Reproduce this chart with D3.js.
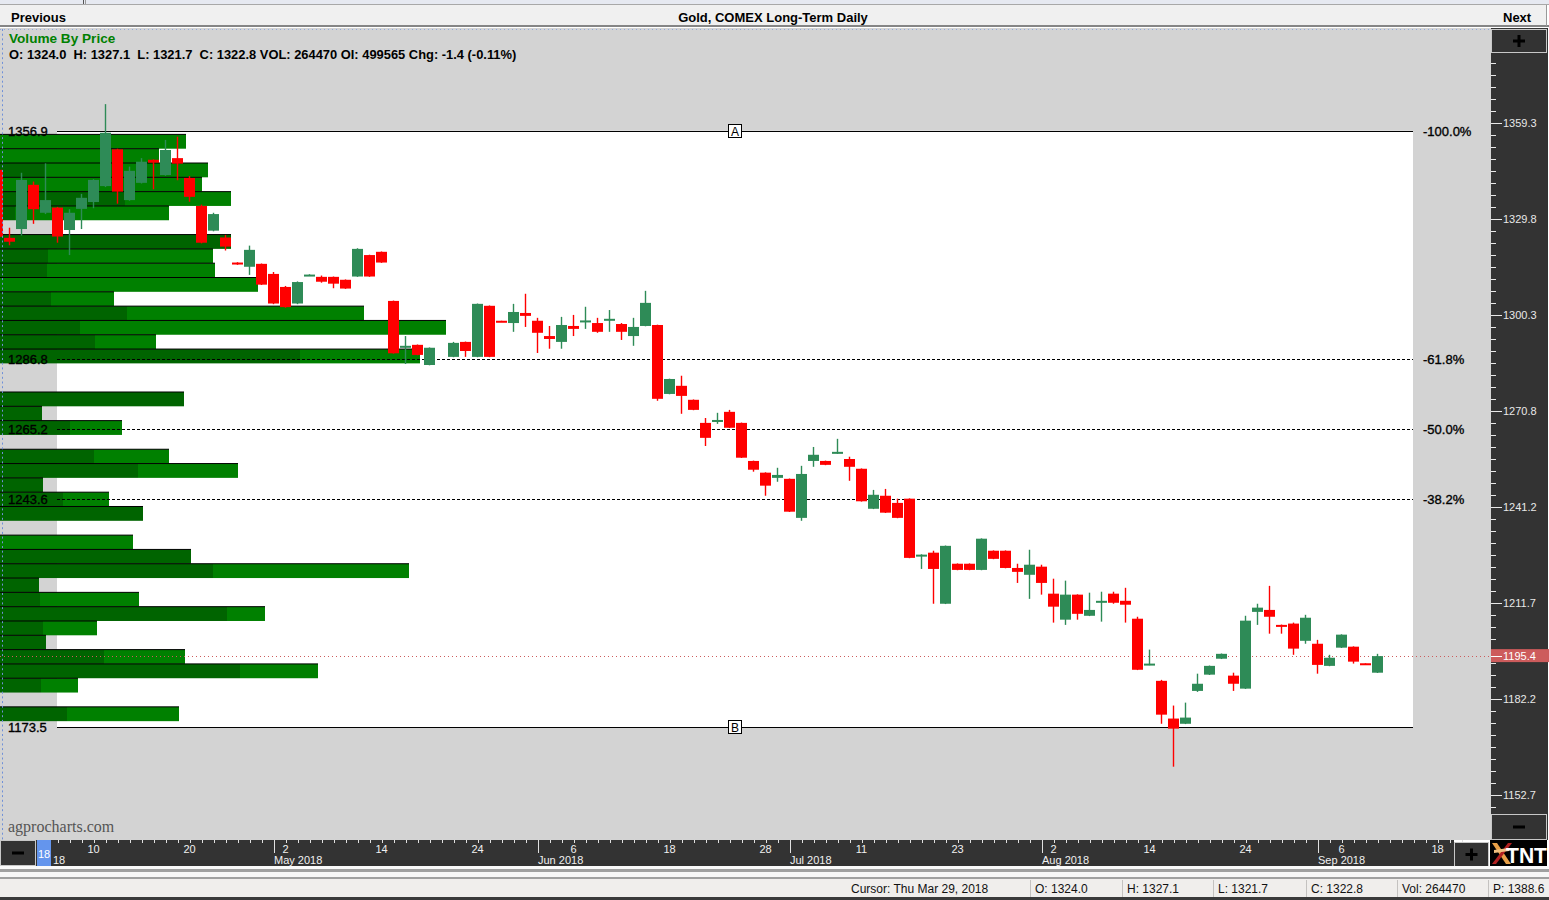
<!DOCTYPE html>
<html><head><meta charset="utf-8">
<script src="https://cdn.jsdelivr.net/npm/d3@7"></script>
<style>
body{margin:0;background:#fff;overflow:hidden}
text{font-family:"Liberation Sans",Arial,sans-serif}
</style>
</head><body>
<svg id="c" width="1549" height="900"></svg>
<script>
// ---------- DATA ----------
const dates = ["03-28","03-29",
"04-02","04-03","04-04","04-05","04-06","04-09","04-10","04-11","04-12","04-13",
"04-16","04-17","04-18","04-19","04-20","04-23","04-24","04-25","04-26","04-27",
"04-30","05-01","05-02","05-03","05-04","05-07","05-08","05-09","05-10","05-11",
"05-14","05-15","05-16","05-17","05-18","05-21","05-22","05-23","05-24","05-25",
"05-29","05-30","05-31","06-01","06-04","06-05","06-06","06-07","06-08",
"06-11","06-12","06-13","06-14","06-15","06-18","06-19","06-20","06-21","06-22",
"06-25","06-26","06-27","06-28","06-29","07-02","07-03","07-05","07-06",
"07-09","07-10","07-11","07-12","07-13","07-16","07-17","07-18","07-19","07-20",
"07-23","07-24","07-25","07-26","07-27","07-30","07-31","08-01","08-02","08-03",
"08-06","08-07","08-08","08-09","08-10","08-13","08-14","08-15","08-16","08-17",
"08-20","08-21","08-22","08-23","08-24","08-27","08-28","08-29","08-30","08-31",
"09-04","09-05","09-06","09-07","09-10","09-11"];
const futureDates = ["09-12","09-13","09-14","09-17","09-18","09-19","09-20"];

const opens = [1344.9,1324.0,
1326.7,1340.3,1331.7,1333.3,1326.4,1332.9,1335.0,1339.9,1351.2,1335.6,
1340.9,1348.0,1343.3,1348.5,1342.4,1333.8,1326.2,1324.1,1316.4,1315.1,
1316.0,1312.9,1308.9,1303.8,1312.5,1312.0,1312.0,1311.1,1312.1,1318.7,
1319.7,1304.6,1290.2,1291.1,1284.9,null,1287.4,1292.0,1287.4,1303.1,
1298.5,1297.8,1300.9,1298.5,1293.8,1292.0,1296.9,1298.4,1297.8,
1298.8,1297.5,1293.8,1296.9,1297.2,1276.0,1278.5,1274.2,1267.1,1267.4,
1270.5,1267.1,1255.4,1251.8,1250.2,1249.9,1237.9,1255.4,1255.4,
1257.9,1256.0,1253.0,1240.7,1244.7,1242.5,1243.8,1226.2,1227.2,1211.5,
1223.8,1223.8,1221.9,1227.8,1227.8,1222.5,1220.4,1222.9,1214.6,1206.6,
1214.3,1207.8,1211.8,1214.6,1212.4,1206.9,1192.7,1187.8,1176.2,1174.6,
1184.7,1189.7,1194.6,1189.4,1185.4,1209.0,1209.6,1205.0,1205.4,1200.1,
1199.2,1192.4,1198.0,1198.3,1193.2,1190.3];
const highs = [1345.5,1327.1,
1344.0,1341.3,1346.9,1333.5,1332.8,1337.5,1342.0,1365.1,1351.4,1345.9,
1348.5,1348.1,1354.1,1355.1,1343.0,1334.2,1331.7,1324.9,1316.5,1321.6,
1316.1,1313.5,1309.2,1310.6,1312.8,1312.4,1312.1,1311.2,1320.8,1318.8,
1319.8,1304.7,1293.8,1291.2,1290.3,null,1292.0,1292.1,1303.8,1303.2,
1298.5,1303.7,1306.8,1299.4,1296.9,1299.7,1300.3,1302.8,1299.4,
1301.8,1297.8,1299.4,1307.7,1297.3,1280.7,1281.6,1274.3,1268.6,1270.2,
1271.1,1267.2,1255.5,1251.9,1253.3,1250.0,1253.9,1259.7,1255.5,
1262.2,1256.7,1253.1,1246.5,1246.8,1243.8,1243.9,1226.7,1227.8,1229.4,
1223.9,1223.9,1231.6,1227.9,1227.9,1223.8,1228.1,1223.5,1219.2,1218.6,
1214.4,1214.9,1215.2,1215.2,1216.4,1207.5,1197.4,1188.1,1180.2,1181.1,
1190.0,1192.5,1196.2,1190.3,1207.8,1211.5,1217.0,1205.1,1205.7,1208.1,
1200.4,1195.8,1202.1,1198.4,1193.2,1196.1];
const lows = [1323.3,1321.7,
1324.7,1328.3,1331.3,1322.5,1318.7,1326.7,1333.1,1339.6,1334.5,1335.4,
1340.7,1338.9,1343.1,1341.7,1335.1,1322.3,1326.0,1320.1,1315.7,1312.6,
1309.5,1303.6,1302.5,1303.6,1312.5,1310.2,1308.5,1308.3,1312.0,1312.0,
1316.3,1288.4,1285.2,1287.9,1284.8,null,1287.3,1287.4,1287.3,1287.3,
1298.3,1295.1,1296.6,1288.6,1289.9,1289.9,1293.8,1296.0,1294.8,
1295.1,1292.6,1290.8,1296.8,1273.9,1275.9,1269.9,1271.0,1260.0,1266.8,
1265.5,1256.3,1252.1,1244.7,1249.0,1239.7,1237.0,1253.6,1254.1,
1257.6,1249.3,1242.9,1240.6,1239.4,1237.8,1225.5,1222.2,1211.5,1211.4,
1221.8,1221.8,1221.8,1225.2,1222.4,1217.9,1213.0,1214.3,1205.7,1205.0,
1206.6,1207.7,1206.0,1211.5,1205.7,1191.1,1192.6,1174.6,1161.4,1174.5,
1184.4,1189.6,1194.5,1184.7,1185.3,1205.0,1202.3,1202.3,1195.8,1199.2,
1190.0,1192.3,1197.9,1193.1,1193.0,1190.2];
const closes = [1324.3,1322.8,
1341.8,1332.8,1335.6,1324.4,1331.7,1336.3,1341.8,1356.3,1338.2,1344.6,
1347.4,1347.1,1351.0,1346.8,1336.6,1322.5,1331.3,1321.3,1315.8,1320.3,
1309.6,1303.8,1302.7,1310.4,1312.7,1310.5,1309.9,1308.4,1320.6,1312.1,
1316.4,1288.5,1290.8,1288.0,1290.2,null,1291.7,1289.2,1303.7,1287.4,
1298.3,1301.2,1300.0,1294.8,1292.9,1297.2,1296.0,1298.6,1295.1,
1299.1,1295.1,1296.6,1304.0,1274.5,1280.6,1275.4,1271.1,1262.5,1268.0,
1265.6,1256.4,1252.7,1247.8,1251.1,1239.8,1251.4,1257.3,1254.2,
1258.2,1253.6,1243.0,1245.0,1239.5,1237.9,1225.6,1226.6,1222.2,1229.3,
1221.9,1221.9,1231.5,1225.3,1222.5,1221.3,1223.5,1217.9,1210.6,1214.3,
1208.4,1209.6,1212.4,1211.8,1211.2,1191.2,1193.1,1177.4,1173.1,1176.5,
1186.9,1192.4,1196.1,1186.9,1206.3,1210.3,1207.5,1204.4,1197.7,1207.2,
1192.7,1194.9,1202.0,1193.7,1193.0,1195.4];

// Volume-by-price rows (top price of each row), down volume (dark) and up volume (light), thousand contracts
const vbpLevels = [1355.8,1351.4,1347.0,1342.6,1338.2,1333.8,1329.4,1325.0,1320.6,1316.2,
1311.8,1307.4,1303.0,1298.6,1294.2,1289.8,1285.4,1281.0,1276.6,1272.2,
1267.8,1263.4,1259.0,1254.6,1250.2,1245.8,1241.4,1237.0,1232.6,1228.2,
1223.8,1219.4,1215.0,1210.6,1206.2,1201.8,1197.4,1193.0,1188.6,1184.2,1179.8];
const vbpDown = [0,0,450,0,1250,150,0,2310,480,470,0,510,1270,800,950,3000,0,0,1840,420,
700,0,940,1380,430,630,1430,0,0,1910,2130,390,400,2270,430,460,1040,2400,410,0,670];
const vbpUp = [1860,1590,1630,2020,1060,1540,0,0,1650,1680,2580,630,2370,3660,610,1200,0,0,0,0,
520,0,750,1000,0,460,0,0,1330,0,1960,0,990,380,540,0,810,780,370,0,1120];

const fibPrices = [1356.9,1286.8,1265.2,1243.6,1173.5];
const fibLeftLabels = ["1356.9","1286.8","1265.2","1243.6","1173.5"];
const fibRightLabels = ["-100.0%","-61.8%","-50.0%","-38.2%",""];
const rightTicks = [1359.3,1329.8,1300.3,1270.8,1241.2,1211.7,1182.2,1152.7];
const lastPrice = 1195.4;
const dayLabels = [["04-10","10"],["04-20","20"],["05-02","2"],["05-14","14"],["05-24","24"],
["06-06","6"],["06-18","18"],["06-28","28"],["07-11","11"],["07-23","23"],["08-02","2"],
["08-14","14"],["08-24","24"],["09-06","6"],["09-18","18"]];
const monthLabels = [["05-01","May 2018"],["06-01","Jun 2018"],
["07-02","Jul 2018"],["08-01","Aug 2018"],["09-04","Sep 2018"]];
const cursorTag = "18";          // cursor date marker on the time axis
const aprTail = "18";            // visible tail of the "Apr 2018" month label
const headerLine = "O: 1324.0  H: 1327.1  L: 1321.7  C: 1322.8 VOL: 264470 OI: 499565 Chg: -1.4 (-0.11%)";
const statusItems = [["Cursor: Thu Mar 29, 2018",851],["O: 1324.0",1035],["H: 1327.1",1127],
["L: 1321.7",1218],["C: 1322.8",1311],["Vol: 264470",1402],["P: 1388.6",1493]];

// ---------- SCALES ----------
const svg = d3.select("#c");
const axisDates = dates.concat(futureDates);
const x = d3.scalePoint().domain(axisDates).range([-2.5, -2.5 + 12*(axisDates.length-1)]);
const y = d3.scaleLinear().domain([1152.7,1359.3]).range([795,123]);
const xVol = d3.scaleLinear().domain([0,4500]).range([0,450]);
const GREEN="#2e8b57", RED="#ff0000";

// ---------- FRAME ----------
svg.append("rect").attr("x",0).attr("y",0).attr("width",1549).attr("height",5).attr("fill","#e6e9f1");
svg.append("rect").attr("x",83).attr("y",0).attr("width",1).attr("height",4).attr("fill","#555");
svg.append("rect").attr("x",85).attr("y",0).attr("width",1).attr("height",4).attr("fill","#999");
svg.append("rect").attr("x",0).attr("y",4).attr("width",1549).attr("height",1).attr("fill","#a8a8a8");
svg.append("rect").attr("x",0).attr("y",5).attr("width",1547).attr("height",21).attr("fill","#f0f0f0");
svg.append("rect").attr("x",0).attr("y",25).attr("width",1549).attr("height",2).attr("fill","#858585");
svg.append("rect").attr("x",1546).attr("y",5).attr("width",1).attr("height",21).attr("fill","#999");

// chart gray area
svg.append("rect").attr("x",0).attr("y",28).attr("width",1491).attr("height",812).attr("fill","#d3d3d3");
const clip = svg.append("clipPath").attr("id","plotclip");
clip.append("rect").attr("x",0).attr("y",28).attr("width",1491).attr("height",812);
const plot = svg.append("g").attr("clip-path","url(#plotclip)");

// white fib box
plot.append("rect").attr("x",57).attr("y",y(fibPrices[0])).attr("width",1413-57)
  .attr("height",y(fibPrices[4])-y(fibPrices[0])).attr("fill","#ffffff");

// ---------- VOLUME BY PRICE ----------
const binSize = vbpLevels[0]-vbpLevels[1];
const rows = vbpLevels.map((p,k)=>({p, dn:vbpDown[k], up:vbpUp[k]})).filter(r=>r.dn+r.up>0);
const vg = plot.append("g");
vg.selectAll("rect.dn").data(rows.filter(r=>r.dn>0)).join("rect")
  .attr("x",0).attr("y",r=>y(r.p)).attr("width",r=>xVol(r.dn))
  .attr("height",r=>y(r.p-binSize)-y(r.p)).attr("fill","#006400");
vg.selectAll("rect.up").data(rows.filter(r=>r.up>0)).join("rect")
  .attr("x",r=>xVol(r.dn)).attr("y",r=>y(r.p)).attr("width",r=>xVol(r.up))
  .attr("height",r=>y(r.p-binSize)-y(r.p)).attr("fill","#008000");
vg.selectAll("rect.top").data(rows).join("rect")
  .attr("x",0).attr("y",r=>y(r.p)-0.5).attr("width",r=>xVol(r.dn+r.up))
  .attr("height",1).attr("fill","#000");

// ---------- FIB LINES ----------
fibPrices.forEach((p,k)=>{
  const solid = (k===0||k===fibPrices.length-1);
  plot.append("line").attr("x1",57).attr("x2",1413)
    .attr("y1",Math.round(y(p))+0.5).attr("y2",Math.round(y(p))+0.5)
    .attr("stroke","#000").attr("stroke-width",1)
    .attr("stroke-dasharray",solid?null:"3,2");
});
// last price dotted line
plot.append("line").attr("x1",0).attr("x2",1491)
  .attr("y1",Math.round(y(lastPrice))+0.5).attr("y2",Math.round(y(lastPrice))+0.5)
  .attr("stroke","#cd5c5c").attr("stroke-width",1).attr("stroke-dasharray","1,3");

// ---------- CANDLES ----------
const candles = dates.map((d,k)=>({d,o:opens[k],h:highs[k],l:lows[k],c:closes[k]})).filter(c=>c.o!=null);
const cg = plot.append("g");
cg.selectAll("line").data(candles).join("line")
  .attr("x1",c=>x(c.d)).attr("x2",c=>x(c.d))
  .attr("y1",c=>y(c.h)).attr("y2",c=>y(c.l))
  .attr("stroke",c=>c.c>=c.o?GREEN:RED).attr("stroke-width",1.4);
cg.selectAll("rect").data(candles).join("rect")
  .attr("x",c=>x(c.d)-5.5).attr("width",11)
  .attr("y",c=>y(Math.max(c.o,c.c)))
  .attr("height",c=>Math.max(2,Math.abs(y(c.o)-y(c.c))))
  .attr("fill",c=>c.c>=c.o?GREEN:RED);

// ---------- FIB LABELS ----------
fibPrices.forEach((p,k)=>{
  plot.append("text").attr("x",8).attr("y",y(p)+5).attr("font-size",13).attr("fill","#000")
    .attr("stroke","#000").attr("stroke-width",0.35).text(fibLeftLabels[k]);
  if(fibRightLabels[k]) plot.append("text").attr("x",1423).attr("y",y(p)+5).attr("font-size",13)
    .attr("fill","#000").attr("stroke","#000").attr("stroke-width",0.35).text(fibRightLabels[k]);
});
[["A",fibPrices[0]],["B",fibPrices[4]]].forEach(([t,p])=>{
  plot.append("rect").attr("x",728.5).attr("y",Math.round(y(p))-6.5).attr("width",13).attr("height",13)
    .attr("fill","#fff").attr("stroke","#000");
  plot.append("text").attr("x",735).attr("y",Math.round(y(p))+4.5).attr("text-anchor","middle")
    .attr("font-size",12).attr("fill","#000").text(t);
});

// ---------- HEADER TEXT ----------
svg.append("text").attr("x",11).attr("y",21.5).attr("font-size",13).attr("font-weight","bold").text("Previous");
svg.append("text").attr("x",773).attr("y",21.5).attr("font-size",13).attr("font-weight","bold").attr("text-anchor","middle").text("Gold, COMEX Long-Term Daily");
svg.append("text").attr("x",1503).attr("y",21.5).attr("font-size",13).attr("font-weight","bold").text("Next");
svg.append("text").attr("x",9).attr("y",43).attr("font-size",13.6).attr("font-weight","bold").attr("fill","#008000").text("Volume By Price");
svg.append("text").attr("x",9).attr("y",58.5).attr("font-size",12.9).attr("font-weight","bold").attr("fill","#000")
  .style("white-space","pre").text(headerLine);
svg.append("text").attr("x",8).attr("y",832).attr("font-size",16).attr("fill","#555")
  .style("font-family","'Liberation Serif','DejaVu Serif',serif").text("agprocharts.com");

// dotted blue guides
svg.append("line").attr("x1",2.5).attr("x2",2.5).attr("y1",29).attr("y2",840).attr("stroke","#6f90d8").attr("stroke-dasharray","2,2.7");
svg.append("line").attr("x1",0).attr("x2",1490).attr("y1",29.5).attr("y2",29.5).attr("stroke","#8fa8dc").attr("stroke-dasharray","1,3");

// ---------- RIGHT AXIS ----------
svg.append("rect").attr("x",1491).attr("y",28).attr("width",57).attr("height",812).attr("fill","#333");
const ra = svg.append("g");
const step = (rightTicks[0]-rightTicks[1])/8;
const minor = d3.range(-5, (rightTicks.length-1)*8+3).map(k=>rightTicks[0]-k*step);
ra.selectAll("line.mn").data(minor.filter(v=>y(v)>58 && y(v)<812)).join("line")
  .attr("x1",1491).attr("x2",1496).attr("y1",v=>Math.round(y(v))+0.5).attr("y2",v=>Math.round(y(v))+0.5)
  .attr("stroke","#e8e8e8");
// last price box
ra.append("rect").attr("x",1491).attr("y",y(lastPrice)-7).attr("width",58).attr("height",13).attr("fill","#cd5c5c");
ra.append("line").attr("x1",1491).attr("x2",1502).attr("y1",Math.round(y(lastPrice))+0.5).attr("y2",Math.round(y(lastPrice))+0.5).attr("stroke","#fff");
ra.append("text").attr("x",1503).attr("y",y(lastPrice)+4).attr("font-size",11).attr("fill","#fff").text(lastPrice.toFixed(1));
ra.selectAll("line.mj").data(rightTicks).join("line")
  .attr("x1",1491).attr("x2",1502).attr("y1",v=>Math.round(y(v))+0.5).attr("y2",v=>Math.round(y(v))+0.5)
  .attr("stroke","#e8e8e8");
ra.selectAll("text.mj").data(rightTicks).join("text")
  .attr("x",1503).attr("y",v=>y(v)+4).attr("font-size",11).attr("fill","#e8e8e8").text(v=>v.toFixed(1));

function button(x0,y0,w,h,sym){
  svg.append("rect").attr("x",x0+0.5).attr("y",y0+0.5).attr("width",w-1).attr("height",h-1)
    .attr("fill","#333").attr("stroke","#c8c8c8");
  const cx=x0+w/2, cy=y0+h/2;
  svg.append("rect").attr("x",cx-6).attr("y",cy-1.5).attr("width",12).attr("height",3).attr("fill","#000");
  if(sym==="+") svg.append("rect").attr("x",cx-1.5).attr("y",cy-6).attr("width",3).attr("height",12).attr("fill","#000");
}
button(1491,29,56,24,"+");
button(1491,814,56,26,"-");

// ---------- BOTTOM AXIS ----------
svg.append("rect").attr("x",0).attr("y",840).attr("width",1454).attr("height",26).attr("fill","#333");
const ba = svg.append("g");
ba.selectAll("line.mn").data(axisDates).join("line")
  .attr("x1",d=>Math.round(x(d))+0.5).attr("x2",d=>Math.round(x(d))+0.5).attr("y1",840).attr("y2",843)
  .attr("stroke","#e0e0e0");
ba.selectAll("line.mo").data(monthLabels).join("line")
  .attr("x1",d=>Math.round(x(d[0]))+0.5).attr("x2",d=>Math.round(x(d[0]))+0.5).attr("y1",840).attr("y2",853)
  .attr("stroke","#e0e0e0");
ba.selectAll("text.dy").data(dayLabels).join("text")
  .attr("x",d=>x(d[0])).attr("y",853).attr("text-anchor","middle").attr("font-size",11).attr("fill","#f0f0f0").text(d=>d[1]);
ba.selectAll("text.mo").data(monthLabels).join("text")
  .attr("x",d=>x(d[0])+0.5).attr("y",863.5).attr("font-size",11).attr("fill","#f0f0f0").text(d=>d[1]);
ba.append("text").attr("x",53).attr("y",863.5).attr("font-size",11).attr("fill","#f0f0f0").text(aprTail);
// cursor marker
svg.append("rect").attr("x",37).attr("y",840).attr("width",14).attr("height",26).attr("fill","#6495ed");
svg.append("text").attr("x",44).attr("y",858).attr("text-anchor","middle").attr("font-size",11).attr("fill","#fff").text(cursorTag);
button(0,840,36,26,"-");
button(1454,842,35,25,"+");

// TNT logo
const logo = svg.append("g");
logo.append("rect").attr("x",1490).attr("y",840).attr("width",57).attr("height",27).attr("fill","#000");
logo.append("path").attr("d","M1492,843 L1497,843 L1511,864 L1506,864 Z").attr("fill","#e8a048");
logo.append("path").attr("d","M1508,843 L1512,843 L1496,864 L1492,864 Z").attr("fill","#b02020");
logo.append("path").attr("d","M1494,850 L1509,848 L1509,851 L1494,853 Z").attr("fill","#f0c080");
logo.append("text").attr("x",1506).attr("y",863).attr("font-size",22).attr("font-weight","bold")
  .attr("fill","#fff").attr("textLength",41).attr("lengthAdjust","spacingAndGlyphs").text("TNT");

// ---------- STATUS BAR ----------
svg.append("rect").attr("x",0).attr("y",866).attr("width",1549).attr("height",3).attr("fill","#fafafa");
svg.append("rect").attr("x",0).attr("y",869).attr("width",1549).attr("height",3).attr("fill","#a0a0a0");
svg.append("rect").attr("x",0).attr("y",872).attr("width",1549).attr("height",5).attr("fill","#f7f7f7");
svg.append("rect").attr("x",0).attr("y",877).attr("width",1549).attr("height",2).attr("fill","#a0a0a0");
svg.append("rect").attr("x",0).attr("y",879).attr("width",1549).attr("height",19).attr("fill","#f0eeec");
svg.append("rect").attr("x",0).attr("y",897).attr("width",1549).attr("height",3).attr("fill","#3a3a3a");
const sb = svg.append("g");
sb.selectAll("line").data(statusItems.slice(1)).join("line")
  .attr("x1",d=>d[1]-4.5).attr("x2",d=>d[1]-4.5).attr("y1",880).attr("y2",897).attr("stroke","#c4c2c0");
sb.selectAll("text").data(statusItems).join("text")
  .attr("x",d=>d[1]).attr("y",893).attr("font-size",12).attr("fill","#111").text(d=>d[0]);
</script>
</body></html>
